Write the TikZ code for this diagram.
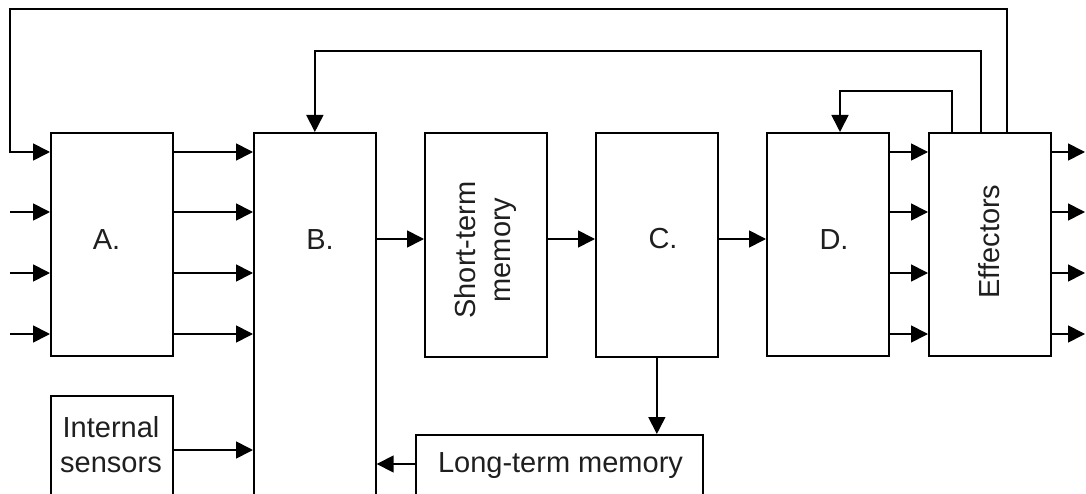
\documentclass[tikz,border=0pt]{standalone}
\usepackage{fontspec}
\setmainfont{Liberation Sans}
\usetikzlibrary{arrows.meta}
\begin{document}
\begin{tikzpicture}[x=1pt,y=-1pt,
  box/.style={draw=black, line width=1.7pt, inner sep=0pt, anchor=north west},
  arr/.style={draw=black, line width=1.7pt, -{Triangle[length=17pt,width=17pt]}},
  lbl/.style={inner sep=0pt, text=black!88, font=\fontsize{29}{35}\selectfont, align=center}]
\useasboundingbox (0,0) rectangle (1086,494);
\fill[white] (0,0) rectangle (1086,494);
\clip (0,0) rectangle (1086,494);
% boxes
\node[box, minimum width=122pt, minimum height=223pt] (A) at (50,132) {};
\node[box, minimum width=122pt, minimum height=400pt] (B) at (253,132) {};
\node[box, minimum width=122pt, minimum height=150pt] (IS) at (50,395) {};
\node[box, minimum width=122pt, minimum height=224pt] (STM) at (424,132) {};
\node[box, minimum width=122pt, minimum height=224pt] (C) at (595,132) {};
\node[box, minimum width=122pt, minimum height=223pt] (D) at (766,132) {};
\node[box, minimum width=122pt, minimum height=223pt] (E) at (928,132) {};
\node[box, minimum width=287pt, minimum height=100pt] (LTM) at (415,434) {};
% labels
\node[lbl, anchor=base] at (106.5,250) {A.};
\node[lbl, anchor=base] at (320,250) {B.};
\node[lbl, anchor=base] at (663,249) {C.};
\node[lbl, anchor=base] at (834,250) {D.};
\node[lbl] at (111,445) {Internal\\sensors};
\node[lbl, rotate=90] at (485,250) {Short-term\\memory};
\node[lbl, rotate=90] at (989.5,241.5) {Effectors};
\node[lbl, anchor=base] at (560.5,472) {Long-term memory};
% helper coordinates
\coordinate (r1) at (0,152);
\coordinate (r2) at (0,212);
\coordinate (r3) at (0,273);
\coordinate (r4) at (0,334);
\coordinate (rm) at (0,239);
\coordinate (ri) at (0,450);
\coordinate (rl) at (0,464);
\coordinate (lx) at (10,0);
\coordinate (ox) at (1085,0);
\coordinate (t1) at (1007,9);
\coordinate (t2) at (981,51);
\coordinate (t3) at (952,91);
\coordinate (t3b) at (840,0);
% inputs to A
\draw[arr] (t1 |- E.north) -- (t1) -| (lx |- r1) -- (r1 -| A.west);
\draw[arr] (lx |- r2) -- (r2 -| A.west);
\draw[arr] (lx |- r3) -- (r3 -| A.west);
\draw[arr] (lx |- r4) -- (r4 -| A.west);
% parallel rows
\foreach \r in {r1,r2,r3,r4} {
  \draw[arr] (\r -| A.east) -- (\r -| B.west);
  \draw[arr] (\r -| D.east) -- (\r -| E.west);
  \draw[arr] (\r -| E.east) -- (\r -| ox);
}
\draw[arr] (ri -| IS.east) -- (ri -| B.west);
\draw[arr] (rm -| B.east) -- (rm -| STM.west);
\draw[arr] (rm -| STM.east) -- (rm -| C.west);
\draw[arr] (rm -| C.east) -- (rm -| D.west);
\draw[arr] (C.south) -- (C.south |- LTM.north);
\draw[arr] (rl -| LTM.west) -- (rl -| B.east);
% feedback loops
\draw[arr] (t2 |- E.north) -- (t2) -| (B.north);
\draw[arr] (t3 |- E.north) -- (t3) -| (t3b |- D.north);
\end{tikzpicture}
\end{document}
